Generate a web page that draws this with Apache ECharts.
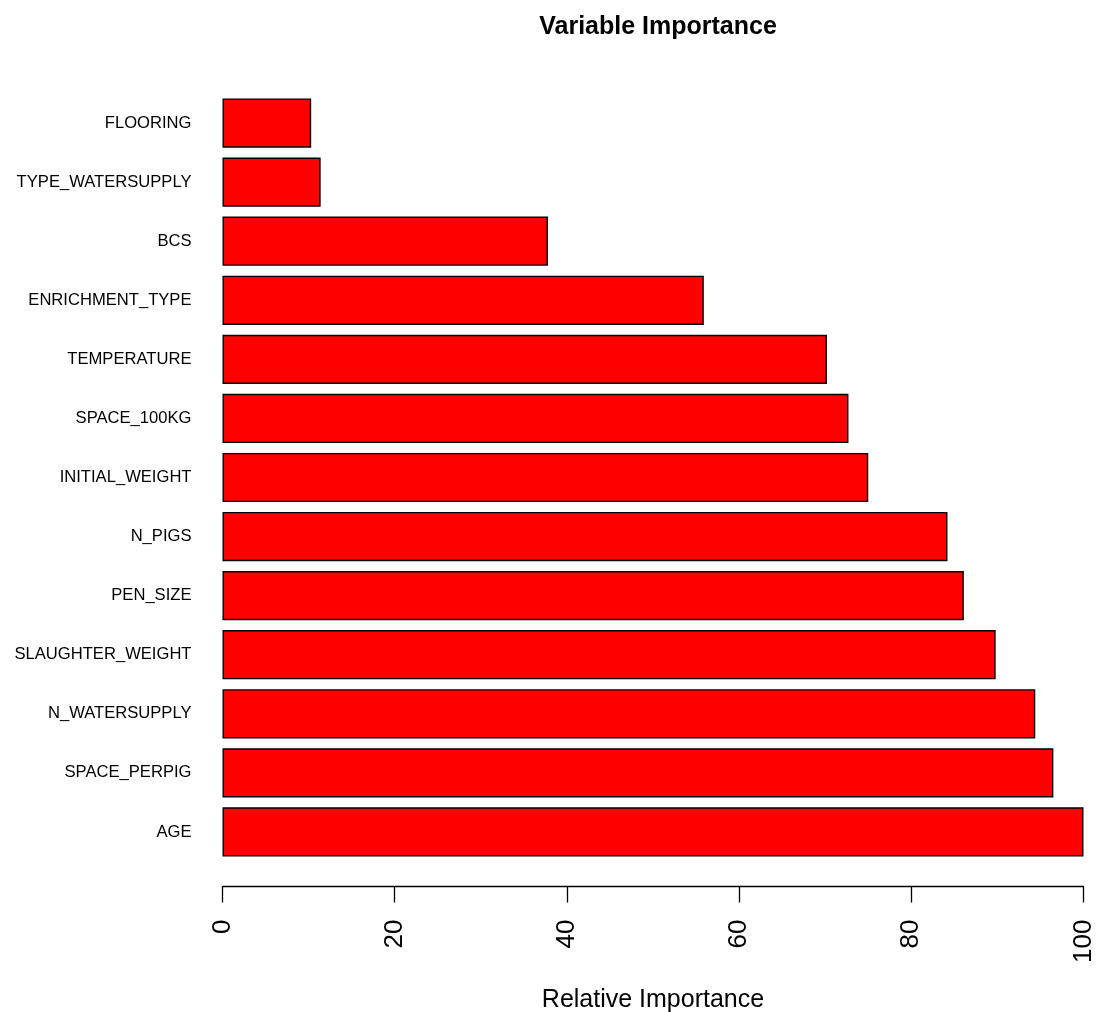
<!DOCTYPE html>
<html>
<head>
<meta charset="utf-8">
<script src="https://cdn.jsdelivr.net/npm/echarts@6/dist/echarts.min.js"></script>
<style>
  html, body { margin: 0; padding: 0; background: #fff; }
  #chart { width: 1100px; height: 1012px; }
</style>
</head>
<body>
<div id="chart"></div>
<script>
// Categories listed bottom-to-top (ECharts category y-axis starts at the bottom)
const categories = [
  'AGE', 'SPACE_PERPIG', 'N_WATERSUPPLY', 'SLAUGHTER_WEIGHT', 'PEN_SIZE',
  'N_PIGS', 'INITIAL_WEIGHT', 'SPACE_100KG', 'TEMPERATURE', 'ENRICHMENT_TYPE',
  'BCS', 'TYPE_WATERSUPPLY', 'FLOORING'
];
const importance = [100, 96.5, 94.4, 89.8, 86.1, 84.2, 75.0, 72.7, 70.2, 55.9, 37.8, 11.4, 10.3];
const xTicks = { min: 0, max: 100, interval: 20 };
const titleText = 'Variable Importance';
const xAxisTitle = 'Relative Importance';

const chart = echarts.init(document.getElementById('chart'), null, { renderer: 'canvas' });
chart.setOption({
  backgroundColor: '#ffffff',
  animation: false,
  title: {
    text: titleText,
    left: 653,
    textAlign: 'center',
    top: 10,
    textStyle: { fontFamily: 'Liberation Sans, Arial, sans-serif', fontSize: 25, fontWeight: 'bold', color: '#000' }
  },
  grid: {
    left: 222.5, right: 16.5, top: 93.5, bottom: 150.5,
    containLabel: false, outerBoundsMode: 'none'
  },
  xAxis: {
    type: 'value',
    min: xTicks.min, max: xTicks.max, interval: xTicks.interval,
    offset: 25,
    name: xAxisTitle,
    nameLocation: 'middle',
    nameGap: 101,
    nameTextStyle: { fontFamily: 'Liberation Sans, Arial, sans-serif', fontSize: 25, color: '#000' },
    axisLine: { show: true, lineStyle: { color: '#000', width: 1.3 } },
    axisTick: { show: true, length: 16, lineStyle: { color: '#000', width: 1.3 } },
    axisLabel: {
      rotate: 90, margin: 33,
      fontFamily: 'Liberation Sans, Arial, sans-serif', fontSize: 26, color: '#000',
      padding: [8, 0, 0, 0]
    },
    splitLine: { show: false }
  },
  yAxis: {
    type: 'category',
    data: categories,
    axisLine: { show: false },
    axisTick: { show: false },
    axisLabel: {
      margin: 31,
      fontFamily: 'Liberation Sans, Arial, sans-serif',
      fontSize: 16.6, color: '#000',
      padding: [7, 0, 0, 0]
    },
    splitLine: { show: false }
  },
  series: [{
    type: 'bar',
    data: importance,
    barCategoryGap: '16.67%',
    itemStyle: { color: '#ff0000', borderColor: '#000', borderWidth: 1.4 },
    silent: true
  }]
});
</script>
</body>
</html>
